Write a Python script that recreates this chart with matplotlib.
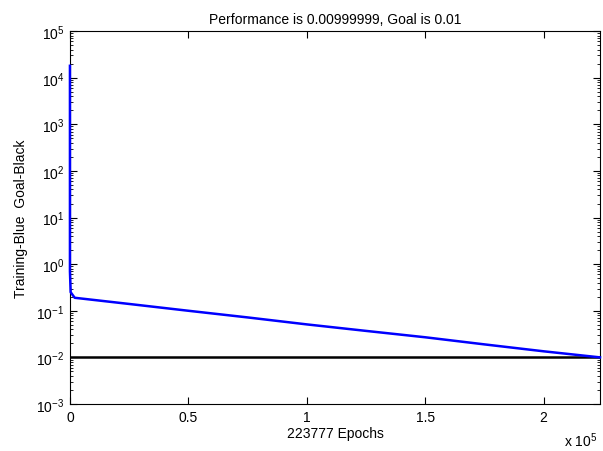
import matplotlib
matplotlib.use("Agg")
import matplotlib.pyplot as plt
from matplotlib.ticker import FixedLocator, FuncFormatter, LogLocator

plt.rcParams["font.family"] = ["Liberation Sans", "DejaVu Sans"]
plt.rcParams["mathtext.fontset"] = "custom"
plt.rcParams["mathtext.rm"] = "Liberation Sans"
plt.rcParams["mathtext.it"] = "Liberation Sans"
plt.rcParams["axes.unicode_minus"] = False

# training record
epochs = [0, 1, 300, 2000, 25000, 50000, 75000, 100000, 125000, 150000, 175000, 200000, 223777]
performance = [1.8e4, 0.7, 0.25, 0.19, 0.14, 0.10, 0.072, 0.051, 0.037, 0.027, 0.019, 0.0135, 0.00999999]
goal = 0.01
total_epochs = 223777
xticks = [0, 50000, 100000, 150000, 200000]

fig = plt.figure(figsize=(6.03, 4.52), dpi=100)
ax = fig.add_axes([0.116, 0.104, 0.879, 0.825])

ax.plot(epochs, performance, color="#0000ff", linewidth=1.8, clip_on=False, zorder=4)
ax.plot([0, total_epochs], [goal, goal], color="black", linewidth=1.8, zorder=3)

ax.set_yscale("log")
ax.set_xlim(0, total_epochs)
ax.set_ylim(1e-3, 1e5)
ax.yaxis.set_major_locator(LogLocator(base=10, numticks=20))
ax.yaxis.set_minor_locator(LogLocator(base=10, subs=range(2, 10), numticks=20))
ax.xaxis.set_major_locator(FixedLocator(xticks))
ax.xaxis.set_major_formatter(FuncFormatter(lambda v, p: "%g" % (v / 1e5)))

ax.tick_params(which="both", direction="in", top=True, right=True, labelsize=10, pad=4)
ax.tick_params(which="major", length=5)
ax.tick_params(which="minor", length=2.5)
for s in ax.spines.values():
    s.set_linewidth(0.8)

ax.set_title("Performance is 0.00999999, Goal is 0.01", fontsize=10, pad=6)
ax.set_xlabel("223777 Epochs", fontsize=10, labelpad=2)
ax.set_ylabel("Training-Blue  Goal-Black", fontsize=10, labelpad=6)
ax.text(0.995, -0.07, r"x 10$^{5}$", transform=ax.transAxes, ha="right", va="top", fontsize=10)

fig.savefig("out.png", dpi=100)
